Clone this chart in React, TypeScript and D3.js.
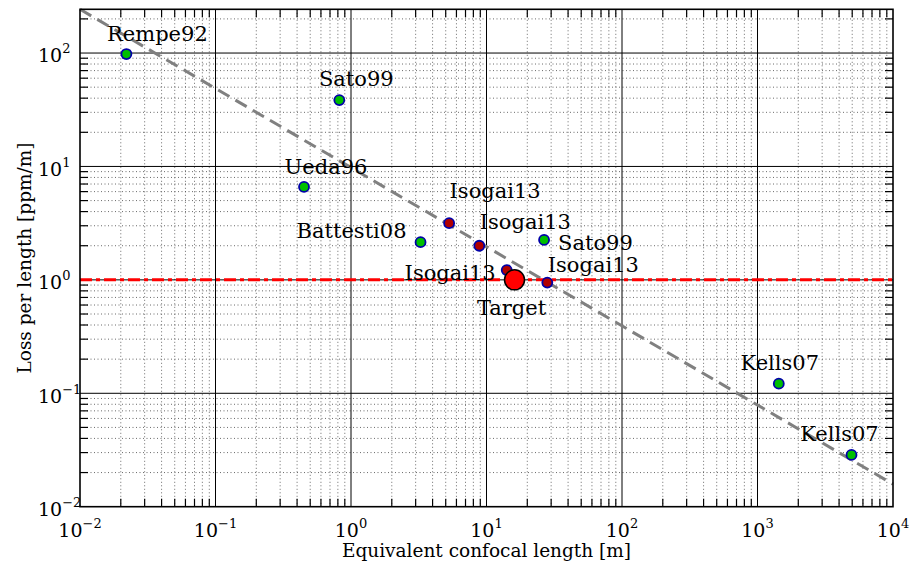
import React, { useEffect, useRef } from "react";
import * as d3 from "d3";

const names = [
  "Rempe92", "Sato99", "Ueda96", "Battesti08", "Isogai13", "Isogai13",
  "Sato99", "Isogai13", "Isogai13", "Kells07", "Kells07",
];
const lengths = [0.022, 0.82, 0.45, 3.26, 5.3, 8.85, 26.6, 14.1, 28.1, 1436, 4940];
const losses = [98, 38.5, 6.6, 2.15, 3.16, 2.0, 2.25, 1.22, 0.946, 0.1216, 0.0286];
const kinds = ["old", "old", "old", "old", "new", "new", "old", "new", "new", "old", "old"];

const target = { name: "Target", length: 16.1, loss: 1 };
const fitLine = [
  { x: 0.01, y: 243 },
  { x: 10000, y: 0.0158 },
];
const refLevel = 1;

const xDecades = [-2, -1, 0, 1, 2, 3, 4];
const yDecades = [-2, -1, 0, 1, 2];

// label placement relative to each marker: [dx, dy, anchor]
const labelOffsets: [number, number, string][] = [
  [31, -13, "middle"],
  [17, -14, "middle"],
  [22, -13, "middle"],
  [-14, -4, "end"],
  [46, -25, "middle"],
  [46, -17, "middle"],
  [14, 10, "start"],
  [-11, 10, "end"],
  [46, -11, "middle"],
  [1, -14, "middle"],
  [-12, -14, "middle"],
];

const W = 911;
const H = 567;
const FONT = "'DejaVu Serif', 'Liberation Serif', serif";

const App = () => {
  const svgRef = useRef<SVGSVGElement>(null);

  useEffect(() => {
    const svg = d3.select(svgRef.current);
    svg.selectAll("*").remove();

    const left = 80, right = 893, top = 9.3, bottom = 506.7;
    const x = d3.scaleLog().domain([1e-2, 1e4]).range([left, right]);
    const y = d3.scaleLog().domain([1e-2, 243]).range([bottom, top]);

    const g = svg.append("g").attr("font-family", FONT);

    // minor grid + ticks
    const xMinor: number[] = [];
    xDecades.slice(0, -1).forEach((d) => {
      for (let k = 2; k <= 9; k++) xMinor.push(k * Math.pow(10, d));
    });
    const yMinor: number[] = [];
    yDecades.forEach((d) => {
      for (let k = 2; k <= 9; k++) {
        const v = k * Math.pow(10, d);
        if (v < 243) yMinor.push(v);
      }
    });

    g.selectAll(".xminor")
      .data(xMinor)
      .join("line")
      .attr("x1", (d) => x(d)).attr("x2", (d) => x(d))
      .attr("y1", top).attr("y2", bottom)
      .attr("stroke", "#444").attr("stroke-width", 0.8)
      .attr("stroke-dasharray", "1,2.5");
    g.selectAll(".yminor")
      .data(yMinor)
      .join("line")
      .attr("y1", (d) => y(d)).attr("y2", (d) => y(d))
      .attr("x1", left).attr("x2", right)
      .attr("stroke", "#444").attr("stroke-width", 0.8)
      .attr("stroke-dasharray", "1,2.5");

    // major grid
    g.selectAll(".xmajor")
      .data(xDecades.slice(1, -1))
      .join("line")
      .attr("x1", (d) => x(Math.pow(10, d))).attr("x2", (d) => x(Math.pow(10, d)))
      .attr("y1", top).attr("y2", bottom)
      .attr("stroke", "#000").attr("stroke-width", 1);
    g.selectAll(".ymajor")
      .data(yDecades.slice(1))
      .join("line")
      .attr("y1", (d) => y(Math.pow(10, d))).attr("y2", (d) => y(Math.pow(10, d)))
      .attr("x1", left).attr("x2", right)
      .attr("stroke", "#000").attr("stroke-width", 1);

    // ticks on all four sides
    const tk = g.append("g").attr("stroke", "#000").attr("stroke-width", 1.2);
    xMinor.forEach((v) => {
      tk.append("line").attr("x1", x(v)).attr("x2", x(v)).attr("y1", bottom).attr("y2", bottom - 8);
      tk.append("line").attr("x1", x(v)).attr("x2", x(v)).attr("y1", top).attr("y2", top + 8);
    });
    yMinor.forEach((v) => {
      tk.append("line").attr("y1", y(v)).attr("y2", y(v)).attr("x1", left).attr("x2", left + 8);
      tk.append("line").attr("y1", y(v)).attr("y2", y(v)).attr("x1", right).attr("x2", right - 8);
    });

    // fit line
    const line = d3.line<{ x: number; y: number }>().x((d) => x(d.x)).y((d) => y(d.y));
    g.append("path")
      .attr("d", line(fitLine))
      .attr("fill", "none")
      .attr("stroke", "#808080")
      .attr("stroke-width", 3)
      .attr("stroke-dasharray", "13,7");

    // reference level
    g.append("line")
      .attr("x1", left).attr("x2", right)
      .attr("y1", y(refLevel)).attr("y2", y(refLevel))
      .attr("stroke", "#ff0000")
      .attr("stroke-width", 3)
      .attr("stroke-dasharray", "12,4,4,4");

    // markers
    const pts = names.map((n, i) => ({ name: n, x: lengths[i], y: losses[i], kind: kinds[i] }));
    g.selectAll(".pt")
      .data(pts)
      .join("circle")
      .attr("cx", (d) => x(d.x))
      .attr("cy", (d) => y(d.y))
      .attr("r", 5)
      .attr("fill", (d) => (d.kind === "new" ? "#b00000" : "#00bf00"))
      .attr("stroke", "#0000a8")
      .attr("stroke-width", 1.8);

    g.append("circle")
      .attr("cx", x(target.length))
      .attr("cy", y(target.loss))
      .attr("r", 10)
      .attr("fill", "#ff0000")
      .attr("stroke", "#000")
      .attr("stroke-width", 1.5);

    // point labels
    const addLabel = (txt: string, px: number, py: number, anchor: string) => {
      g.append("text")
        .attr("x", px)
        .attr("y", py)
        .attr("text-anchor", anchor)
        .attr("font-size", 21)
        .attr("fill", "#000")
        .text(txt);
    };
    pts.forEach((d, i) => {
      const [dx, dy, anchor] = labelOffsets[i];
      addLabel(d.name, x(d.x) + dx, y(d.y) + dy, anchor);
    });
    addLabel(target.name, x(target.length) - 3, y(target.loss) + 35, "middle");

    // frame
    g.append("rect")
      .attr("x", left).attr("y", top)
      .attr("width", right - left).attr("height", bottom - top)
      .attr("fill", "none").attr("stroke", "#000").attr("stroke-width", 1.6);

    // tick labels
    const fmt = (d: number) => (d < 0 ? "\u2212" + Math.abs(d) : String(d));
    xDecades.forEach((d) => {
      const t = g.append("text")
        .attr("x", x(Math.pow(10, d)))
        .attr("y", 536.7)
        .attr("text-anchor", "middle")
        .attr("font-size", 19);
      t.append("tspan").text("10");
      t.append("tspan").attr("dy", -9).attr("font-size", 13).text(fmt(d));
    });
    yDecades.forEach((d) => {
      const t = g.append("text")
        .attr("x", 38)
        .attr("y", y(Math.pow(10, d)) + 9.3)
        .attr("text-anchor", "start")
        .attr("font-size", 19);
      t.append("tspan").text("10");
      t.append("tspan").attr("dy", -9).attr("font-size", 13).text(fmt(d));
    });

    // axis titles
    g.append("text")
      .attr("x", (left + right) / 2)
      .attr("y", 557.3)
      .attr("text-anchor", "middle")
      .attr("font-size", 18.5)
      .text("Equivalent confocal length [m]");
    g.append("text")
      .attr("transform", `translate(31,${(top + bottom) / 2}) rotate(-90)`)
      .attr("text-anchor", "middle")
      .attr("font-size", 18.5)
      .text("Loss per length [ppm/m]");
  }, []);

  return (
    <svg
      ref={svgRef}
      width={W}
      height={H}
      style={{ position: "absolute", left: 0, top: 0, background: "#fff" }}
    ></svg>
  );
};

export default App;
